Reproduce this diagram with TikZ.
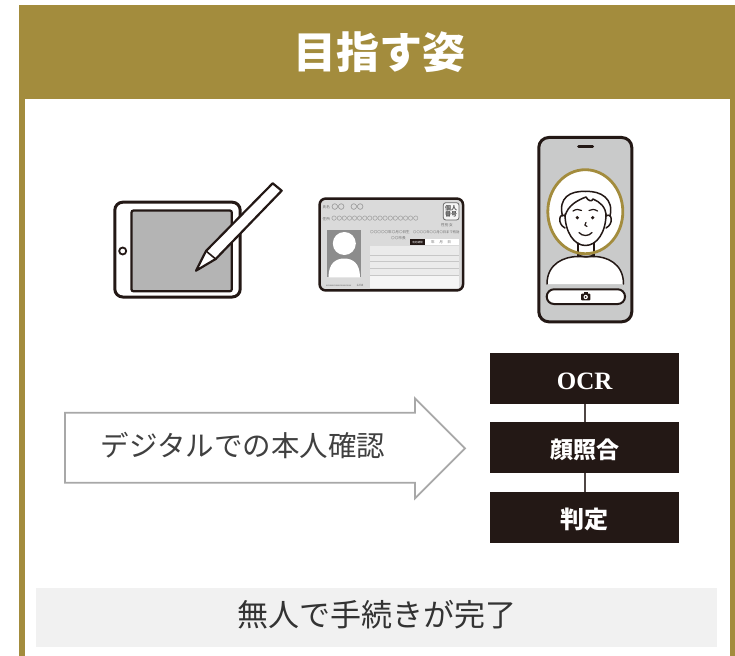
\documentclass[tikz,border=0pt]{standalone}
\usepackage{fontspec}
\newfontfamily\jp{Noto Sans CJK JP}
\newfontfamily\lserif{Liberation Serif}
\definecolor{gold}{HTML}{A38C3D}
\definecolor{ink}{HTML}{231815}
\definecolor{screengray}{HTML}{B4B4B4}
\definecolor{cardgray}{HTML}{DADADA}
\definecolor{photogray}{HTML}{8C8C8C}
\definecolor{phonegray}{HTML}{C9CACA}
\definecolor{arrowgray}{HTML}{A8A8A8}
\definecolor{panelgray}{HTML}{F1F1F1}
\tikzset{
  blackbox/.style={fill=ink, text=white, minimum width=189.3pt, minimum height=50.7pt, inner sep=0pt, text height=22pt, text depth=0pt},
  conn/.style={draw=ink!80, line width=2.2pt},
  tiny/.style={font=\jp\fontsize{3.6}{4}\selectfont, text=black!60, inner sep=0pt},
  facestroke/.style={draw=ink, line width=1.5pt, line cap=round, line join=round},
}
\begin{document}
\begin{tikzpicture}[x=1pt,y=-1pt]
\useasboundingbox (0,0) rectangle (735,655);

% framed panel with its header band
\fill[gold] (19.3,5.3) rectangle (740,662);
\fill[white] (25,98.7) rectangle (730,662);
\node[font=\jp\bfseries\fontsize{43}{43}\selectfont, text=white, inner sep=0pt] (title) at (379.7,52.2) {目指す姿};

% tablet with stylus
\draw[ink, line width=3pt, fill=white, rounded corners=8pt] (114.8,202.2) rectangle (240.2,297);
\draw[ink, line width=2.2pt, fill=screengray, rounded corners=2pt] (131.5,210.5) rectangle (231.8,291.3);
\draw[ink, line width=1.8pt, fill=white] (122.7,251) circle [radius=3.5];
\draw[ink, line width=2.2pt, fill=white, line join=round] (196,270.7) -- (206,251) -- (272.7,183.3) -- (281.7,190.7) -- (215.7,259) -- cycle;
\draw[ink, line width=1.6pt] (206,251) -- (215.7,259);

% identity card
\draw[ink, line width=2.5pt, fill=cardgray, rounded corners=6pt] (319.6,198.6) rectangle (463,290.4);
\fill[photogray] (327.3,230) rectangle (361,277.3);
\fill[white] (344.3,243.5) circle [radius=11.5];
\fill[white] (328.5,277.3) .. controls (328.5,263) and (336,258.5) .. (344.3,258.5) .. controls (352.5,258.5) and (360,263) .. (360,277.3) -- cycle;
\fill[black!8] (370,246) rectangle (459,288);
\fill[black!4] (370,275) rectangle (459,288);
\foreach \yy in {255,261.7,268.3,275} \draw[black!22, line width=0.6pt] (370,\yy) -- (459,\yy);
\fill[white] (410,239.3) rectangle (459,245);
\fill[ink] (410,239.3) rectangle (425,245);
\node[tiny, text=white, font=\jp\fontsize{2.6}{3}\selectfont] (validity) at (417.5,242.1) {有効期限};
\node[tiny, anchor=west] (yy) at (431,242.2) {年\hspace{4.5pt}月\hspace{4.5pt}日};
\draw[black!60, line width=0.8pt, rounded corners=2.5pt, fill=black!4] (443.3,202.7) rectangle (459,220);
\node[font=\jp\bfseries\fontsize{6}{6.6}\selectfont, text=black!65, align=center, inner sep=0pt] (kojin) at (451.2,211.4) {個人\\番号};
\node[tiny, anchor=west] (namelbl) at (322.5,206.7) {氏名};
\node[font=\jp\fontsize{6.5}{7}\selectfont, text=black!55, inner sep=0pt, anchor=west] (namev) at (331.5,206.7) {〇〇\hspace{6pt}〇〇};
\node[tiny, anchor=west] (addrlbl) at (322.5,219) {住所};
\node[font=\jp\fontsize{5.1}{6}\selectfont, text=black!55, inner sep=0pt, anchor=west] (addrv) at (331.5,219) {〇〇〇〇〇〇〇〇〇〇〇〇〇〇〇〇〇};
\node[tiny, anchor=west] (sex) at (441,225.2) {性別 女};
\node[tiny, anchor=west] (birth) at (370,232.3) {〇〇〇〇〇年〇月〇日生};
\node[tiny, anchor=west, font=\jp\fontsize{3.3}{4}\selectfont] (expire) at (413,232.3) {〇〇〇〇年〇〇月〇日まで有効};
\node[tiny, anchor=west] (mayor) at (391,237.9) {〇〇市長};
\node[tiny, anchor=west, font=\jp\fontsize{2.4}{3}\selectfont] (serial) at (326,285.7) {xxxxxxxxxxxxxxxxxxxxx};
\node[tiny, anchor=west, font=\jp\fontsize{3}{3.5}\selectfont] (num) at (356.5,285.7) {1234};

% smartphone with face capture
\draw[ink, line width=3pt, fill=phonegray, rounded corners=10pt] (538.8,137.5) rectangle (631.8,321.8);
\draw[ink, line width=3pt, line cap=round] (578.5,146.3) -- (592.5,146.3);
\fill[white] (585.3,211.7) ellipse [x radius=37.5, y radius=42];
% shoulders
\draw[facestroke, fill=white] (547,284) .. controls (547,263) and (565,256.5) .. (578,256.5) -- (594,256.5) .. controls (606,256.5) and (623.5,263) .. (623.5,284);
% neck
\draw[facestroke] (578,243) -- (578,256.5);
\draw[facestroke] (594,243) -- (594,256.5);
\draw[facestroke] (578,254) .. controls (581,258) and (591,258) .. (594,254);
% ears
\draw[facestroke, fill=white] (565,216) .. controls (559,212) and (557,224) .. (565,228);
\draw[facestroke, fill=white] (606,216) .. controls (612,212) and (614,224) .. (606,228);
% hair outline
\draw[facestroke] (562.5,216) .. controls (558,198) and (570,190.5) .. (585.5,191.5) .. controls (601,190.5) and (614,199) .. (610,216);
% face outline
\draw[facestroke] (565,214) .. controls (565,232) and (574,245.5) .. (585.5,245.5) .. controls (597,245.5) and (606,232) .. (606,214);
% fringe
\draw[facestroke] (565,216) .. controls (568,205) and (578,200) .. (586,197) .. controls (588,201) and (592,202) .. (593,199) .. controls (600,202) and (606,207) .. (606,216);
% eyebrows, eyes, nose, mouth
\draw[facestroke, line width=1.2pt] (573,211) .. controls (576,209) and (579,209) .. (581.5,210.5);
\draw[facestroke, line width=1.2pt] (589,210.5) .. controls (591.5,209) and (594.5,209) .. (597.5,211);
\fill[ink] (577.3,217.7) circle [radius=1.8];
\fill[ink] (592.7,217.7) circle [radius=1.8];
\draw[facestroke, line width=1.2pt] (586,222.5) .. controls (584,224) and (584.5,226.5) .. (587,226.5);
\draw[facestroke, line width=1.3pt] (579,232.5) .. controls (582,236.5) and (589,236.5) .. (592,232.5);
% capture guide
\draw[gold, line width=2.8pt] (585.3,211.7) ellipse [x radius=37.5, y radius=42];
% shutter button
\draw[ink, line width=2pt, fill=white, rounded corners=7.3pt] (546.7,289.3) rectangle (625,304);
\fill[ink, rounded corners=1pt] (581,293.6) rectangle (590.4,300.4);
\fill[ink] (583.6,292.3) rectangle (587.8,294);
\fill[white] (585.7,297) circle [radius=2.2];
\fill[ink] (585.7,297) circle [radius=1];

% process arrow
\draw[arrowgray, line width=1.8pt, fill=white, line join=miter] (65,412.7) -- (415,412.7) -- (415,398.3) -- (465,448.3) -- (415,498.3) -- (415,482.7) -- (65,482.7) -- cycle;
\node[font=\jp\fontsize{28.5}{30}\selectfont, text=black!75, inner sep=0pt] (digital) at (243,445) {デジタルでの本人確認};

% processing steps
\node[blackbox, font=\lserif\bfseries\fontsize{25}{25}\selectfont] (ocr) at (584.7,378.7) {OCR};
\node[blackbox, font=\jp\bfseries\fontsize{23}{23}\selectfont] (facematch) at (584.7,447.5) {顔照合};
\node[blackbox, font=\jp\bfseries\fontsize{24}{24}\selectfont] (judge) at (584.7,517.2) {判定};
\draw[conn] (ocr.south) -- (facematch.north);
\draw[conn] (facematch.south) -- (judge.north);

% result panel
\fill[panelgray] (36,587.7) rectangle (717.3,646.7);
\node[font=\jp\fontsize{31}{32}\selectfont, text=black!80, inner sep=0pt] (result) at (376.7,614.5) {無人で手続きが完了};
\end{tikzpicture}
\end{document}
